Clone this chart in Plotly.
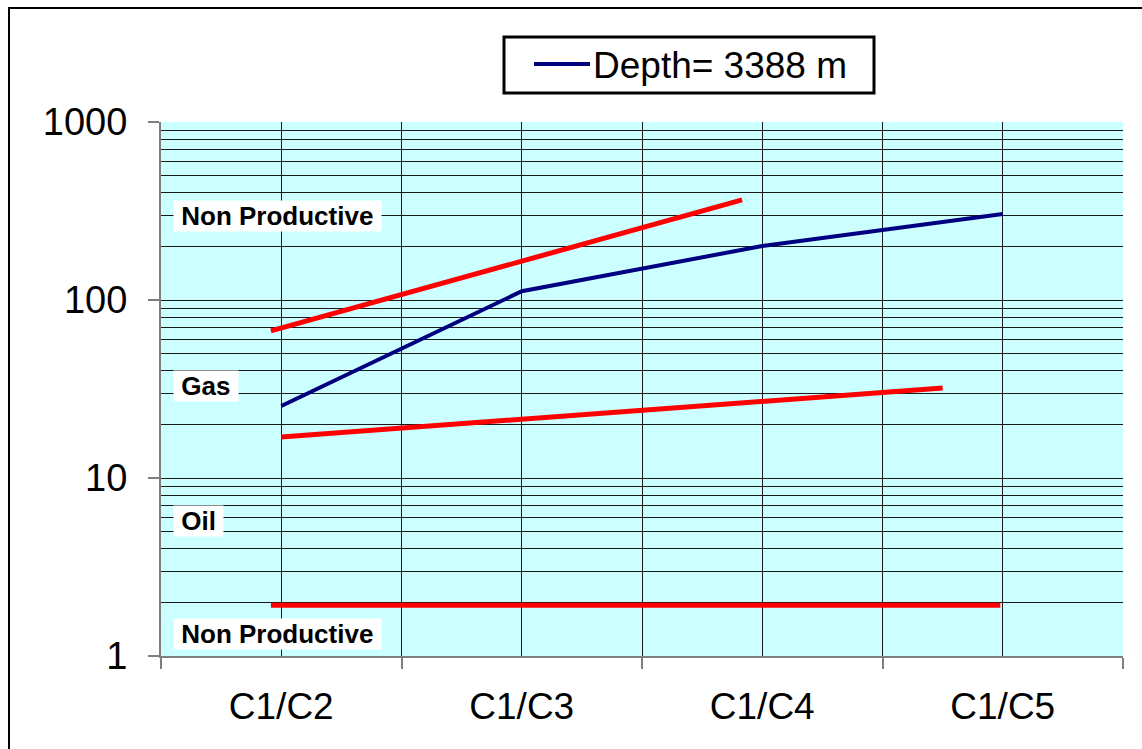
import plotly.graph_objects as go

# Gas-ratio categories along the x axis
categories = ["C1/C2", "C1/C3", "C1/C4", "C1/C5"]
category_pos = [0, 1, 2, 3]

# Measured ratios for the sample depth
depth_name = "Depth= 3388 m"
depth_values = [25.4, 112, 201, 304]

# Zone boundary lines (x given as fractional category index)
upper_x = [-0.043, 1.916]
upper_y = [67, 365]
middle_x = [0.0, 2.75]
middle_y = [17.0, 32.0]
lower_x = [-0.043, 2.99]
lower_y = [1.93, 1.93]

zone_names = ["Non Productive", "Gas", "Oil", "Non Productive"]

y_major = [1, 10, 100, 1000]
y_minor = [m * d for d in (1, 10, 100) for m in range(2, 10)]

GRID = "#1a1a1a"
AXIS = "#7f7f7f"
NAVY = "#000080"
FONT = "Liberation Sans, Arial, sans-serif"

W, H = 1142, 749
ML, MR, MT, MB = 161, 19, 122, 93
PW, PH = W - ML - MR, H - MT - MB


def px_x(v):
    """Page pixel column -> paper x."""
    return (v - ML) / PW


def px_y(v):
    """Page pixel row -> paper y."""
    return (H - MB - v) / PH


fig = go.Figure()

fig.add_trace(go.Scatter(
    x=category_pos, y=depth_values, mode="lines", name=depth_name,
    line=dict(color=NAVY, width=4), showlegend=False,
))
for xs, ys in ((upper_x, upper_y), (middle_x, middle_y), (lower_x, lower_y)):
    fig.add_trace(go.Scatter(
        x=xs, y=ys, mode="lines", showlegend=False, hoverinfo="skip",
        line=dict(color="#ff0000", width=5),
    ))

# Zone labels on white boxes inside the plot
label_rows = [216, 386, 521, 634]
for name, row in zip(zone_names, label_rows):
    fig.add_annotation(
        text=f"&nbsp;<b>{name}</b>&nbsp;", xref="paper", yref="paper",
        x=px_x(173), y=px_y(row),
        xanchor="left", yanchor="middle", showarrow=False,
        font=dict(family=FONT, size=26, color="black"),
        bgcolor="white", borderpad=0,
    )

# Legend box with the series key
fig.add_shape(type="rect", xref="paper", yref="paper",
              x0=px_x(504), x1=px_x(874), y0=px_y(93), y1=px_y(37),
              fillcolor="white", line=dict(color="black", width=3), layer="above")
fig.add_shape(type="line", xref="paper", yref="paper",
              x0=px_x(534), x1=px_x(590), y0=px_y(64), y1=px_y(64),
              line=dict(color=NAVY, width=4), layer="above")
fig.add_annotation(
    text=depth_name, xref="paper", yref="paper", x=px_x(591), y=px_y(65),
    xanchor="left", yanchor="middle", showarrow=False,
    font=dict(family=FONT, size=37, color="black"),
)

# Outer frame
fig.add_shape(type="rect", xref="paper", yref="paper",
              x0=px_x(9), x1=px_x(1160), y0=px_y(780), y1=px_y(8),
              line=dict(color="black", width=2), layer="above")

fig.update_layout(
    width=W, height=H,
    margin=dict(l=ML, r=MR, t=MT, b=MB),
    paper_bgcolor="white", plot_bgcolor="#ccffff",
    font=dict(family=FONT, color="black"),
    showlegend=False,
    xaxis=dict(
        range=[-0.5, 3.5], tickmode="array", tickvals=category_pos, ticktext=categories,
        ticks="", showgrid=True, gridcolor=GRID, gridwidth=1,
        showline=True, linecolor=AXIS, linewidth=2,
        tickfont=dict(family=FONT, size=37, color="black"),
        ticklabelstandoff=17, zeroline=False,
        minor=dict(tickmode="array", tickvals=[-0.5, 0.5, 1.5, 2.5, 3.5],
                   ticks="outside", ticklen=11, tickcolor=AXIS, tickwidth=2,
                   showgrid=True, gridcolor=GRID, gridwidth=1),
    ),
    yaxis=dict(
        type="log", range=[0, 3], tickmode="array", tickvals=y_major,
        ticktext=[str(v) for v in y_major],
        ticks="outside", ticklen=11, tickcolor=AXIS, tickwidth=2,
        showgrid=True, gridcolor=GRID, gridwidth=1,
        showline=True, linecolor=AXIS, linewidth=2,
        tickfont=dict(family=FONT, size=38, color="black"),
        ticklabelstandoff=13, zeroline=False,
        minor=dict(tickmode="array", tickvals=y_minor,
                   ticks="inside", ticklen=10, tickcolor=GRID, tickwidth=1,
                   showgrid=True, gridcolor=GRID, gridwidth=1),
    ),
)

fig.write_html("out.html")
